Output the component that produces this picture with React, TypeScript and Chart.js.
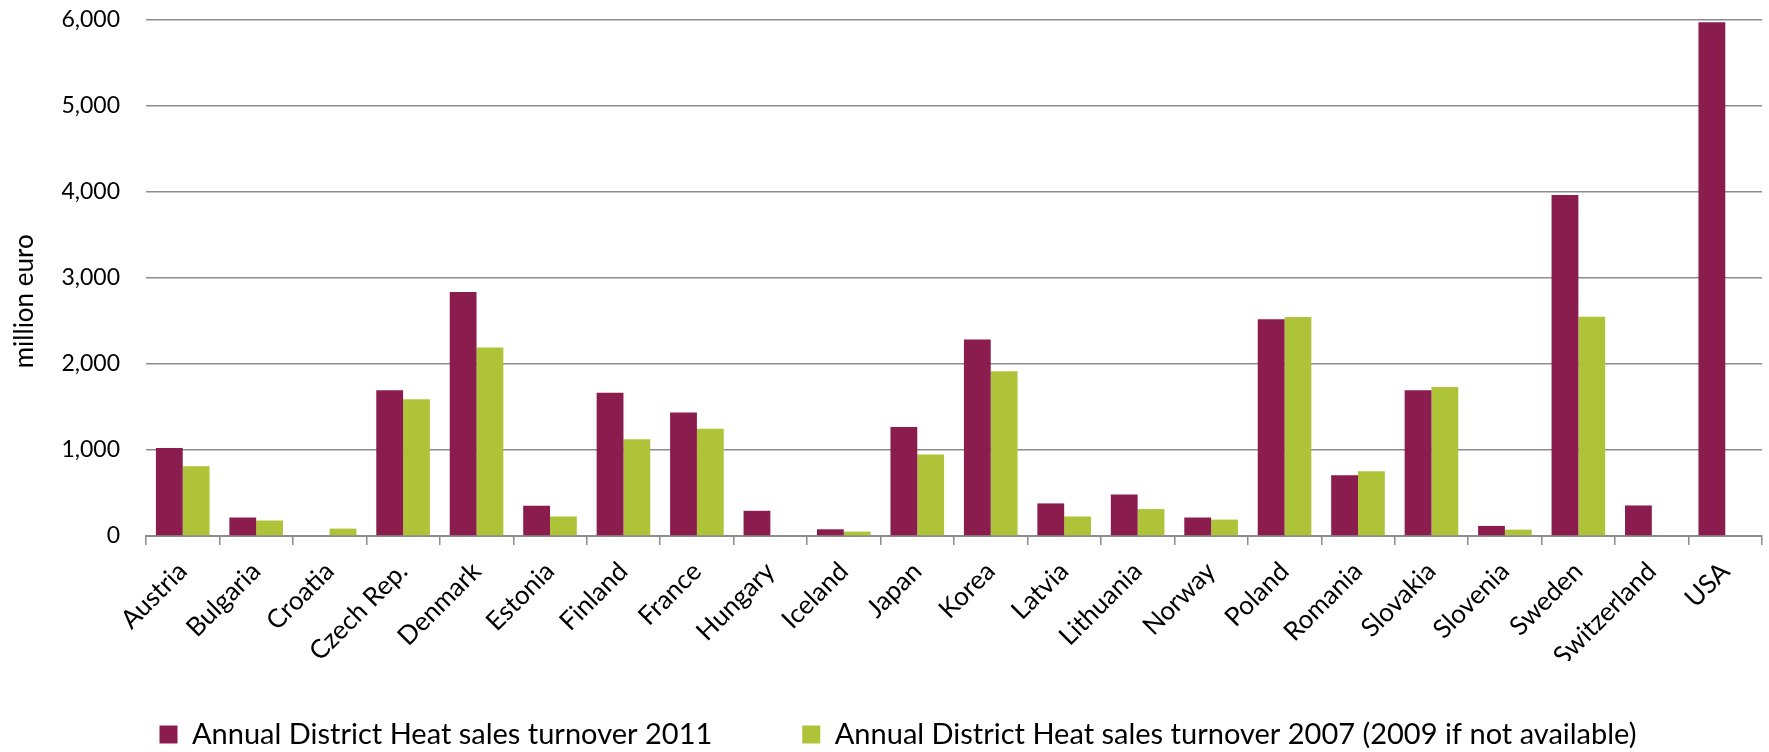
import React, { useEffect, useRef } from "react";
import { Chart, registerables } from "chart.js";

Chart.register(...registerables);

const categories = [
  "Austria", "Bulgaria", "Croatia", "Czech Rep.", "Denmark", "Estonia", "Finland", "France",
  "Hungary", "Iceland", "Japan", "Korea", "Latvia", "Lithuania", "Norway", "Poland",
  "Romania", "Slovakia", "Slovenia", "Sweden", "Switzerland", "USA",
];

const turnover2011: (number | null)[] = [
  1023, 215, null, 1694, 2836, 352, 1667, 1437,
  293, 78, 1266, 2284, 379, 484, 215, 2521,
  707, 1694, 117, 3965, 355, 5973,
];

const turnover2007: (number | null)[] = [
  812, 180, 86, 1589, 2192, 227, 1125, 1246,
  null, 51, 949, 1917, 227, 313, 191, 2547,
  754, 1733, 74, 2550, null, null,
];

const seriesLabels = [
  "Annual District Heat sales turnover 2011",
  "Annual District Heat sales turnover 2007 (2009 if not available)",
];

const yTicks = [0, 1000, 2000, 3000, 4000, 5000, 6000];

const yTitle = "million euro";

const FONT = "Lato";

export default function App() {
  const ref = useRef<HTMLCanvasElement | null>(null);

  useEffect(() => {
    document.body.style.margin = "0";
    const canvas = ref.current;
    if (!canvas) return;
    const placeLegend = {
      id: "placeLegend",
      afterLayout(chart: any) {
        if (chart.legend) {
          chart.legend.left = 34;
          chart.legend.top = 630;
        }
      },
    };
    const chart = new Chart(canvas, {
      type: "bar",
      data: {
        labels: categories,
        datasets: [
          {
            label: seriesLabels[0],
            data: turnover2011,
            backgroundColor: "#8b1c4e",
            categoryPercentage: 0.73,
            barPercentage: 1.0,
          },
          {
            label: seriesLabels[1],
            data: turnover2007,
            backgroundColor: "#aec337",
            categoryPercentage: 0.73,
            barPercentage: 1.0,
          },
        ],
      },
      plugins: [placeLegend],
      options: {
        responsive: false,
        animation: false,
        devicePixelRatio: 1,
        layout: { padding: { top: 0, right: 7, left: 0, bottom: 4 } },
        plugins: {
          legend: {
            position: "bottom",
            maxHeight: 87,
            labels: {
              font: { family: FONT, size: 29 },
              color: "#000",
              boxWidth: 18,
              boxHeight: 18,
              padding: 90,
            },
          },
          tooltip: { enabled: false },
        },
        scales: {
          x: {
            grid: {
              display: true,
              offset: true,
              drawOnChartArea: false,
              drawTicks: true,
              tickLength: 9,
              color: "#8c8c8c",
              lineWidth: 1.5,
            },
            border: { display: true, color: "#8c8c8c", width: 2 },
            ticks: {
              font: { family: FONT, size: 26 },
              color: "#000",
              minRotation: 45,
              maxRotation: 45,
              padding: 11,
              autoSkip: false,
            },
            afterFit: (s: any) => {
              s.height = 125;
            },
          },
          y: {
            min: 0,
            max: 6000,
            afterBuildTicks: (s: any) => {
              s.ticks = yTicks.map((v) => ({ value: v }));
            },
            grid: {
              color: "#8c8c8c",
              lineWidth: 1.5,
              drawTicks: false,
            },
            border: { display: false },
            ticks: {
              font: { family: FONT, size: 23 },
              color: "#000",
              padding: 26,
              callback: (v: any) => Number(v).toLocaleString("en-US"),
            },
            title: {
              display: true,
              text: yTitle + "\u00a0".repeat(7),
              font: { family: FONT, size: 26 },
              color: "#000",
              padding: { top: 9, bottom: 0 },
            },
            afterFit: (s: any) => {
              s.width = 146;
              s.paddingTop = 20;
              s.paddingBottom = 14;
            },
          },
        },
      },
    });
    return () => chart.destroy();
  }, []);

  return (
    <div style={{ width: 1769, height: 752 }}>
      <canvas ref={ref} width={1769} height={752} style={{ display: "block" }} />
    </div>
  );
}
